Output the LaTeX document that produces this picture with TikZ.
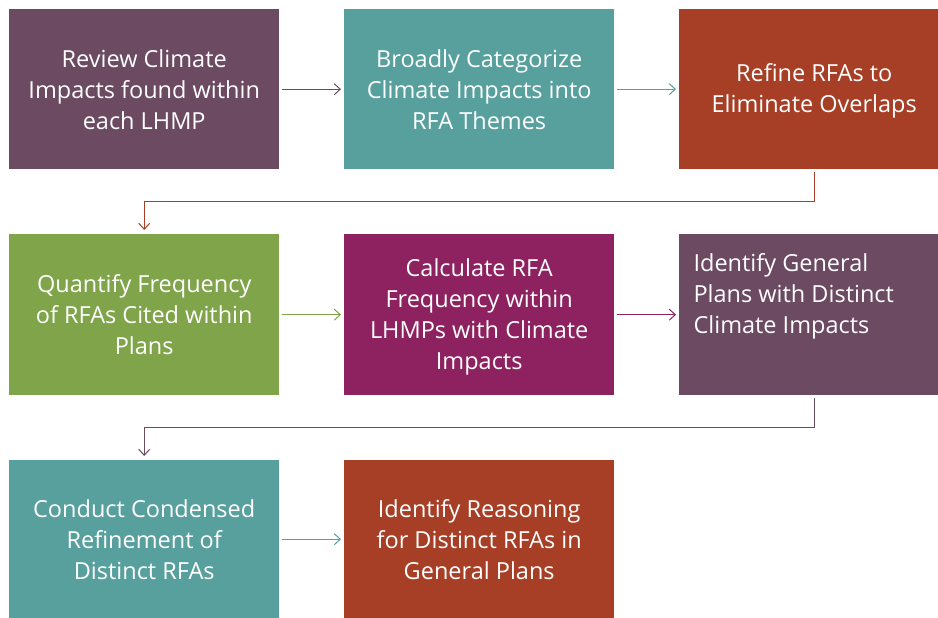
\documentclass[tikz,border=0pt]{standalone}
\usepackage{fontspec}
\setmainfont{Open Sans}
\usetikzlibrary{arrows.meta}
\definecolor{cplum}{HTML}{6B4A62}
\definecolor{cteal}{HTML}{57A09E}
\definecolor{crust}{HTML}{A63F26}
\definecolor{cgreen}{HTML}{7FA44A}
\definecolor{cmag}{HTML}{8E2260}
\begin{document}
\begin{tikzpicture}[x=1pt,y=1pt,
  box/.style={fill=#1, draw=none, text=white, minimum width=270pt, minimum height=160pt, inner sep=0pt, anchor=north west},
  txt/.style={text=white, font=\fontsize{23.5}{31}\selectfont, align=center},
  conn/.style={draw=#1, line width=1pt, -{Straight Barb[length=6pt,width=11pt]}}]
\useasboundingbox (0,0) rectangle (938,618);
\clip (0,0) rectangle (938,618);
% row 1
\node[box=cplum] (b1) at (9,609) {};
\node[box=cteal] (b2) at (344,609) {};
\node[box=crust] (b3) at (679,609) {};
% row 2
\node[box=cgreen, minimum height=161pt] (b4) at (9,384) {};
\node[box=cmag, minimum height=161pt] (b5) at (344,384) {};
\node[box=cplum, minimum height=161pt] (b6) at (679,384) {};
% row 3
\node[box=cteal, minimum height=158pt] (b7) at (9,158) {};
\node[box=crust, minimum height=158pt] (b8) at (344,158) {};
% texts
\node[txt] (t1) at (b1.center) {Review Climate\\Impacts found within\\each LHMP};
\node[txt] (t2) at (b2.center) {Broadly Categorize\\Climate Impacts into\\RFA Themes};
\node[txt] (t3) at ([yshift=-2pt]b3.center) {Refine RFAs to\\Eliminate Overlaps};
\node[txt] (t4) at (b4.center) {Quantify Frequency\\of RFAs Cited within\\Plans};
\node[txt] (t5) at ([yshift=-2pt]b5.center) {Calculate RFA\\Frequency within\\LHMPs with Climate\\Impacts};
\node[txt, align=left, anchor=west] (t6) at ([xshift=11pt,yshift=18pt]b6.west) {Identify General\\Plans with Distinct\\Climate Impacts};
\node[txt] (t7) at (b7.center) {Conduct Condensed\\Refinement of\\Distinct RFAs};
\node[txt] (t8) at (b8.center) {Identify Reasoning\\for Distinct RFAs in\\General Plans};
% connectors
\draw[conn=cplum] ([xshift=3pt]b1.east) -- ([xshift=-3pt]b2.west);
\draw[conn=cteal] ([xshift=3pt]b2.east) -- ([xshift=-3pt]b3.west);
\draw[conn=cgreen] ([xshift=3pt]b4.east) -- ([xshift=-3pt]b5.west);
\draw[conn=cmag] ([xshift=3pt]b5.east) -- ([xshift=-3pt]b6.west);
\draw[conn=cteal] ([xshift=3pt]b7.east) -- ([xshift=-3pt]b8.west);
\draw[conn=crust] ([yshift=-3pt]b3.south) -- ++(0,-29) -| ([yshift=4pt]b4.north);
\draw[conn=cplum] ([yshift=-3pt]b6.south) -- ++(0,-29) -| ([yshift=4pt]b7.north);
\end{tikzpicture}
\end{document}
